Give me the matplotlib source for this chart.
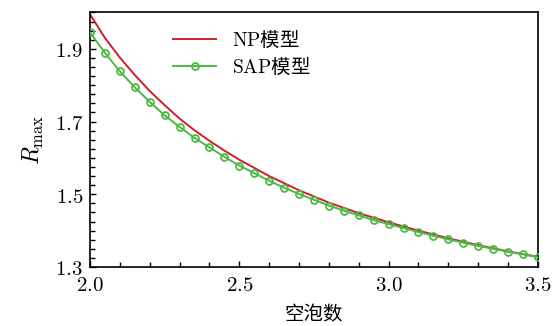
import matplotlib
matplotlib.use("Agg")
import matplotlib.pyplot as plt
from matplotlib.ticker import MultipleLocator, FuncFormatter

# === Data ===
x_sap = [2.00, 2.05, 2.10, 2.15, 2.20, 2.25, 2.30, 2.35, 2.40, 2.45,
         2.50, 2.55, 2.60, 2.65, 2.70, 2.75, 2.80, 2.85, 2.90, 2.95,
         3.00, 3.05, 3.10, 3.15, 3.20, 3.25, 3.30, 3.35, 3.40, 3.45, 3.50]
r_sap = [1.945, 1.889, 1.838, 1.794, 1.754, 1.717, 1.685, 1.655, 1.629, 1.603,
         1.579, 1.558, 1.537, 1.518, 1.501, 1.485, 1.469, 1.455, 1.442, 1.429,
         1.418, 1.407, 1.396, 1.386, 1.376, 1.367, 1.358, 1.350, 1.342, 1.335, 1.327]

x_np = [2.0, 2.05, 2.1, 2.15, 2.2, 2.25, 2.3, 2.35, 2.4, 2.45, 2.5,
        2.6, 2.7, 2.8, 2.9, 3.0, 3.1, 3.2, 3.3, 3.4, 3.5]
r_np = [1.995, 1.930, 1.876, 1.828, 1.784, 1.745, 1.708, 1.676, 1.647, 1.620, 1.595,
        1.550, 1.511, 1.477, 1.448, 1.423, 1.400, 1.379, 1.360, 1.343, 1.328]

label_np = r"$\mathrm{NP}$模型"
label_sap = r"$\mathrm{SAP}$模型"

# === Style ===
plt.rcParams.update({
    "mathtext.fontset": "cm",
    "font.family": ["Noto Sans CJK SC", "DejaVu Sans"],
    "axes.linewidth": 1.2,
})

red = "#d01f2b"
green = "#4cb944"

fig = plt.figure(figsize=(5.54, 3.26), dpi=100)
ax = fig.add_axes([0.1625, 0.181, 0.8085, 0.7807])

ax.plot(x_np, r_np, color=red, linewidth=1.4, label=label_np, zorder=2)
ax.plot(x_sap, r_sap, color=green, linewidth=1.4, marker="o", markersize=5,
        markerfacecolor="none", markeredgecolor=green, markeredgewidth=1.3,
        label=label_sap, zorder=3)

ax.set_xlim(2.0, 3.5)
ax.set_ylim(1.3, 2.0)
ax.xaxis.set_major_locator(MultipleLocator(0.5))
ax.xaxis.set_minor_locator(MultipleLocator(0.1))
ax.yaxis.set_minor_locator(MultipleLocator(0.025))
ax.set_yticks([1.3, 1.5, 1.7, 1.9])
ax.xaxis.set_major_formatter(FuncFormatter(lambda v, p: r"$%.1f$" % v))
ax.yaxis.set_major_formatter(FuncFormatter(lambda v, p: r"$%.1f$" % v))

ax.tick_params(which="both", direction="in", top=False, right=False,
               labelsize=15, width=1.0)
ax.tick_params(which="major", length=4.5, pad=5)
ax.tick_params(which="minor", length=3.5)

ax.set_xlabel("空泡数", fontsize=14, labelpad=6)
ax.set_ylabel(r"$R_{\mathrm{max}}$", fontsize=17, labelpad=6)

ax.legend(loc="upper left", bbox_to_anchor=(0.16, 0.98), frameon=False,
          fontsize=14, handlelength=2.2, handletextpad=0.8,
          labelspacing=0.25, borderaxespad=0.2)

fig.savefig("out.png", dpi=100)
plt.close(fig)
